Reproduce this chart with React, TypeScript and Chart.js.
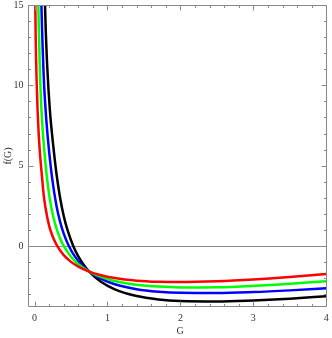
import React, { useEffect, useRef } from "react";
import { Chart, registerables } from "chart.js";

Chart.register(...registerables);

// ---- data ----
const xTickLabels = [0, 1, 2, 3, 4];
const yTickLabels = [0, 5, 10, 15];
const xMinorTicks = [0.2, 0.4, 0.6, 0.8, 1.2, 1.4, 1.6, 1.8, 2.2, 2.4, 2.6, 2.8, 3.2, 3.4, 3.6, 3.8];
const yMinorTicks = [-3, -2, -1, 1, 2, 3, 4, 6, 7, 8, 9, 11, 12, 13, 14];

const gRed = [0.005, 0.01, 0.015, 0.02, 0.028, 0.04, 0.055, 0.075, 0.1, 0.125, 0.15, 0.2, 0.25, 0.31, 0.4, 0.5, 0.6, 0.75, 0.9, 1.1, 1.4, 1.7, 2.0, 2.5, 3.0, 3.5, 4.0];
const fRed = [17.5, 15, 13.1, 11.8, 10.3, 8.6, 7.1, 5.7, 4.4, 3.2, 2.38, 1.25, 0.57, 0, -0.57, -0.99, -1.29, -1.6, -1.81, -2.0, -2.16, -2.23, -2.25, -2.2, -2.09, -1.935, -1.75];

const gGreen = [0.045, 0.052, 0.058, 0.065, 0.072, 0.079, 0.09, 0.1, 0.115, 0.13, 0.165, 0.2, 0.25, 0.3, 0.35, 0.4, 0.5, 0.6, 0.75, 0.9, 1.1, 1.4, 1.7, 2.0, 2.5, 3.0, 3.5, 4.0];
const fGreen = [17.2, 15, 13.6, 12.4, 11.1, 10.1, 8.9, 8.0, 7.0, 6.1, 4.45, 3.19, 1.945, 1.09, 0.47, 0, -0.676, -1.136, -1.6, -1.908, -2.178, -2.413, -2.531, -2.58, -2.568, -2.483, -2.352, -2.19];

const gBlue = [0.085, 0.094, 0.102, 0.11, 0.12, 0.129, 0.145, 0.16, 0.18, 0.2, 0.239, 0.3, 0.35, 0.4, 0.47, 0.55, 0.65, 0.75, 0.9, 1.1, 1.4, 1.7, 2.0, 2.5, 3.0, 3.5, 4.0];
const fBlue = [17.2, 15, 13.6, 12.5, 11.2, 10.2, 8.9, 7.9, 6.8, 5.85, 4.28, 2.5, 1.51, 0.77, 0, -0.633, -1.196, -1.6, -2.024, -2.385, -2.692, -2.848, -2.92, -2.934, -2.872, -2.765, -2.63];

const gBlack = [0.132, 0.143, 0.155, 0.17, 0.19, 0.21, 0.23, 0.25, 0.28, 0.302, 0.35, 0.4, 0.45, 0.53, 0.6, 0.68, 0.75, 0.9, 1.1, 1.4, 1.7, 2.0, 2.5, 3.0, 3.5, 4.0];
const fBlack = [17, 15, 13.2, 11.5, 9.8, 8.45, 7.4, 6.5, 5.25, 4.45, 3.0, 1.86, 1.01, 0, -0.65, -1.215, -1.6, -2.2, -2.7, -3.12, -3.33, -3.43, -3.46, -3.39, -3.28, -3.13];

const xTitle = "G";
const yTitle = "f(G)";

const toPoints = (xs: number[], ys: number[]) => xs.map((x, i) => ({ x, y: ys[i] }));

const framePlugin = {
  id: "mmaFrame",
  beforeDatasetsDraw(chart: any) {
    const ctx = chart.ctx;
    const { left, right } = chart.chartArea;
    const ys = chart.scales.y;
    const y0 = Math.round(ys.getPixelForValue(0)) + 0.5;
    ctx.save();
    ctx.strokeStyle = "#8a8a8a";
    ctx.lineWidth = 1;
    ctx.beginPath();
    ctx.moveTo(left, y0);
    ctx.lineTo(right, y0);
    ctx.stroke();
    ctx.restore();
  },
  afterDatasetsDraw(chart: any) {
    const ctx = chart.ctx;
    const { left, right, top, bottom } = chart.chartArea;
    const xs = chart.scales.x;
    const ys = chart.scales.y;
    const L = Math.round(left) + 0.5;
    const R = Math.round(right) - 0.5;
    const T = Math.round(top) + 0.5;
    const B = Math.round(bottom) - 0.5;
    ctx.save();
    ctx.strokeStyle = "#888";
    ctx.lineWidth = 1;
    ctx.beginPath();
    ctx.rect(L, T, R - L, B - T);
    ctx.stroke();

    const major = 5;
    const minor = 2.5;
    ctx.beginPath();
    xTickLabels.forEach((v) => {
      const px = Math.round(xs.getPixelForValue(v)) + 0.5;
      ctx.moveTo(px, B); ctx.lineTo(px, B - major);
      ctx.moveTo(px, T); ctx.lineTo(px, T + major);
    });
    xMinorTicks.forEach((v) => {
      const px = Math.round(xs.getPixelForValue(v)) + 0.5;
      ctx.moveTo(px, B); ctx.lineTo(px, B - minor);
      ctx.moveTo(px, T); ctx.lineTo(px, T + minor);
    });
    yTickLabels.forEach((v) => {
      const py = Math.round(ys.getPixelForValue(v)) + 0.5;
      ctx.moveTo(L, py); ctx.lineTo(L + major, py);
      ctx.moveTo(R, py); ctx.lineTo(R - major, py);
    });
    yMinorTicks.forEach((v) => {
      const py = Math.round(ys.getPixelForValue(v)) + 0.5;
      ctx.moveTo(L, py); ctx.lineTo(L + minor, py);
      ctx.moveTo(R, py); ctx.lineTo(R - minor, py);
    });
    ctx.stroke();

    ctx.fillStyle = "#333";
    ctx.font = '10px "Liberation Serif", "DejaVu Serif", serif';
    ctx.textAlign = "center";
    ctx.textBaseline = "middle";
    xTickLabels.forEach((v) => {
      ctx.fillText(String(v), xs.getPixelForValue(v), B + 12);
    });
    ctx.textAlign = "right";
    yTickLabels.forEach((v) => {
      ctx.fillText(String(v), L - 5, ys.getPixelForValue(v));
    });

    ctx.textAlign = "center";
    ctx.fillText(xTitle, 180, 331);
    ctx.translate(8, (top + bottom) / 2);
    ctx.rotate(-Math.PI / 2);
    ctx.fillText(yTitle, 0, 0);
    ctx.restore();
  },
};

export default function App() {
  const ref = useRef<HTMLCanvasElement | null>(null);
  useEffect(() => {
    document.body.style.margin = "0";
    if (!ref.current) return;
    const mk = (label: string, xs: number[], ys: number[], color: string) => ({
      label,
      data: toPoints(xs, ys),
      borderColor: color,
      backgroundColor: color,
      borderWidth: 2.5,
      pointRadius: 0,
      fill: false,
      cubicInterpolationMode: "monotone" as const,
    });
    const chart = new Chart(ref.current, {
      type: "line",
      data: {
        datasets: [
          mk("red", gRed, fRed, "#ff0000"),
          mk("green", gGreen, fGreen, "#00ff00"),
          mk("blue", gBlue, fBlue, "#0000ff"),
          mk("black", gBlack, fBlack, "#000000"),
        ],
      },
      options: {
        animation: false,
        responsive: false,
        events: [],
        layout: { padding: { left: 28, right: 5, top: 5, bottom: 31 } },
        plugins: { legend: { display: false }, tooltip: { enabled: false } },
        scales: {
          x: { type: "linear", min: -0.09, max: 4.01, display: false },
          y: { type: "linear", min: -3.8, max: 15, display: false },
        },
      },
      plugins: [framePlugin],
    });
    return () => chart.destroy();
  }, []);
  return (
    <div style={{ position: "absolute", left: 0, top: 0, width: 332, height: 338 }}>
      <canvas ref={ref} width={332} height={338} style={{ width: 332, height: 338 }} />
    </div>
  );
}
